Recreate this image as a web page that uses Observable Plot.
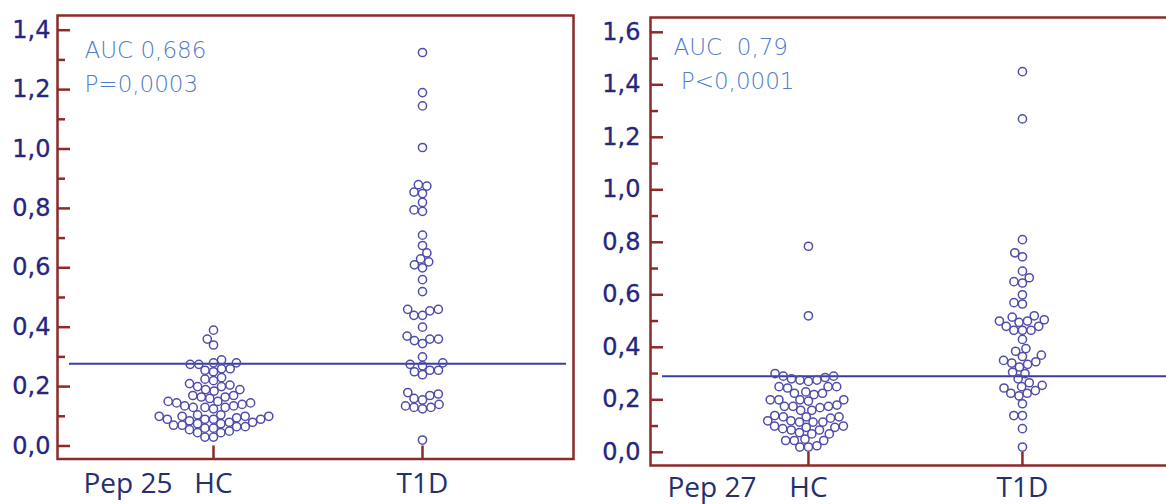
<!DOCTYPE html>
<html><head><meta charset="utf-8">
<script src="https://cdn.jsdelivr.net/npm/d3@7"></script>
<script src="https://cdn.jsdelivr.net/npm/@observablehq/plot@0.6"></script>
<style>
html,body{margin:0;padding:0;background:#fff;overflow:hidden;width:1166px;height:504px;}
#left{position:absolute;left:0;top:0;width:580px;height:504px;}
#right{position:absolute;left:590px;top:0;width:620px;height:504px;}
svg{max-width:none !important;}
svg text{white-space:pre;}
g[aria-label="note"] text{letter-spacing:2px;}
</style></head><body>
<div id="left"></div><div id="right"></div>
<script>
const groups = ["HC", "T1D"];

const pep25HC = [0.39, 0.36, 0.34, 0.29, 0.28, 0.28, 0.275, 0.275, 0.26, 0.255, 0.26, 0.25,
  0.23, 0.225, 0.22, 0.21, 0.2, 0.205, 0.2, 0.19, 0.185, 0.19, 0.17, 0.165, 0.16, 0.165, 0.17,
  0.15, 0.145, 0.15, 0.14, 0.145, 0.13, 0.135, 0.13, 0.125, 0.13, 0.135,
  0.1, 0.105, 0.1, 0.105, 0.1, 0.1, 0.09, 0.09, 0.095, 0.09, 0.085, 0.09,
  0.075, 0.07, 0.08, 0.075, 0.07, 0.08, 0.06, 0.055, 0.065, 0.06, 0.065, 0.045, 0.05, 0.045, 0.03, 0.03];
const pep25T1D = [1.325, 1.19, 1.145, 1.005, 0.88, 0.875, 0.855, 0.85, 0.82, 0.795, 0.79,
  0.71, 0.675, 0.65, 0.63, 0.6, 0.61, 0.62, 0.56, 0.52, 0.44, 0.44, 0.455, 0.46, 0.46,
  0.4, 0.37, 0.345, 0.355, 0.36, 0.36, 0.3, 0.27, 0.275, 0.28, 0.25, 0.255, 0.255, 0.24,
  0.18, 0.175, 0.155, 0.16, 0.17, 0.125, 0.13, 0.13, 0.135, 0.14, 0.02];
const pep27HC = [0.785, 0.52, 0.3, 0.29, 0.285, 0.29, 0.275, 0.27, 0.275, 0.28,
  0.25, 0.25, 0.245, 0.25, 0.225, 0.22, 0.225, 0.23, 0.2, 0.2, 0.195, 0.2, 0.2,
  0.175, 0.17, 0.175, 0.175, 0.18, 0.16, 0.16, 0.135, 0.14, 0.135, 0.13, 0.135,
  0.115, 0.12, 0.115, 0.12, 0.115, 0.1, 0.095, 0.1, 0.095, 0.085, 0.085, 0.09,
  0.07, 0.075, 0.07, 0.045, 0.05, 0.045, 0.045, 0.02, 0.02, 0.025];
const pep27T1D = [1.45, 1.27, 0.81, 0.745, 0.76, 0.69, 0.645, 0.65, 0.665, 0.6, 0.57, 0.565,
  0.5, 0.495, 0.515, 0.52, 0.505, 0.5, 0.465, 0.465, 0.465, 0.48, 0.48, 0.43, 0.395,
  0.365, 0.37, 0.385, 0.35, 0.325, 0.335, 0.34, 0.345, 0.3, 0.305, 0.28,
  0.265, 0.255, 0.25, 0.245, 0.215, 0.225, 0.225, 0.235, 0.185, 0.14, 0.14, 0.09, 0.02];

const pep25Cutoff = 0.277;
const pep27Cutoff = 0.29;
const pep25Major = [0, 0.2, 0.4, 0.6, 0.8, 1.0, 1.2, 1.4];
const pep25Minor = [0.1, 0.3, 0.5, 0.7, 0.9, 1.1, 1.3];
const pep27Major = [0, 0.2, 0.4, 0.6, 0.8, 1.0, 1.2, 1.4, 1.6];
const pep27Minor = [0.1, 0.3, 0.5, 0.7, 0.9, 1.1, 1.3, 1.5];
const pep25Text = ["AUC 0,686", "P=0,0003"];
const pep27Text = ["AUC  0,79", " P<0,0001"];

const RED = "#8c2a2a", NAVY = "#26267f", XNAVY = "#24306e", DOT = "#4e4eaa", LINE = "#3c3ca4", NOTE = "#4f7ccb";

function swarm(values, ky, diam) {
  const pts = values.map((v, i) => ({v, y: v * ky, i, x: 0}));
  const order = pts.slice().sort((a, b) => a.y - b.y);
  const placed = [];
  for (const p of order) {
    const cands = [0];
    for (const q of placed) {
      const dy = p.y - q.y;
      if (Math.abs(dy) < diam) {
        const dx = Math.sqrt(diam * diam - dy * dy);
        cands.push(q.x + dx, q.x - dx);
      }
    }
    cands.sort((a, b) => Math.abs(a) - Math.abs(b) || a - b);
    for (const c of cands) {
      if (placed.every(q => (q.x - c) ** 2 + (q.y - p.y) ** 2 >= diam * diam - 1e-6)) { p.x = c; break; }
    }
    placed.push(p);
  }
  return pts.map(p => p.x);
}

function panel(cfg) {
  const {width, height, ml, mr, mt, mb, xd, yd} = cfg;
  const kx = (width - ml - mr) / (xd[1] - xd[0]);
  const ky = (height - mt - mb) / (yd[1] - yd[0]);
  const rows = [];
  cfg.series.forEach((vals, gi) => {
    const off = swarm(vals, ky, 8.6);
    vals.forEach((v, i) => rows.push({g: groups[gi], x: gi + 1 + off[i] / kx, v}));
  });
  const fmt = d => d.toFixed(1).replace(".", ",");
  return Plot.plot({
    width, height, marginLeft: ml, marginRight: mr, marginTop: mt, marginBottom: mb,
    x: {domain: xd}, y: {domain: yd},
    style: {background: "transparent", fontFamily: "DejaVu Sans", overflow: "visible"},
    marks: [
      Plot.ruleY([cfg.cutoff], {stroke: LINE, strokeWidth: 2, insetLeft: 12, insetRight: cfg.insetRight}),
      Plot.dot(rows, {x: "x", y: "v", r: 4.1, stroke: DOT, strokeWidth: 1.5, fill: "none"}),
      Plot.axisY(cfg.major, {tickSize: -13, tickPadding: cfg.tickPad, stroke: RED, strokeWidth: 2.5, fill: NAVY,
        textStroke: NAVY, textStrokeWidth: 0.3, fontSize: 24, tickFormat: fmt, label: null}),
      Plot.axisY(cfg.minor, {tickSize: -8, stroke: RED, strokeWidth: 2.5, fill: "none", label: null}),
      Plot.axisX([1, 2], {tickSize: -13, stroke: RED, strokeWidth: 2.5, fill: "none", label: null}),
      Plot.axisX([1, 2], {tickSize: 0, tickPadding: cfg.xPad, fill: XNAVY, fontSize: 28, fontFamily: "Open Sans",
        tickFormat: d => groups[d - 1], label: null}),
      Plot.text([cfg.pep], {frameAnchor: "bottom-left", textAnchor: "start", lineAnchor: "top",
        dx: cfg.pepDx, dy: cfg.xPad, fontSize: 28, fontFamily: "Open Sans", fill: XNAVY}),
      Plot.text([cfg.note.join("\n")], {ariaLabel: "note", frameAnchor: "top-left", textAnchor: "start", lineAnchor: "top",
        dx: cfg.noteDx, dy: cfg.noteDy, fontSize: 23, lineHeight: 1.45, fill: NOTE, fontWeight: 200}),
      Plot.frame({stroke: RED, strokeWidth: 2.5})
    ]
  });
}

document.getElementById("left").append(panel({
  width: 580, height: 504, ml: 57, mr: 7, mt: 15, mb: 45.5,
  xd: [0.2536, 2.7225], yd: [-0.0438, 1.4495],
  series: [pep25HC, pep25T1D], cutoff: pep25Cutoff, insetRight: 7, tickPad: 20, xPad: 14,
  major: pep25Major, minor: pep25Minor, pep: "Pep 25", pepDx: 26, note: pep25Text, noteDx: 27, noteDy: 19
}));
document.getElementById("right").append(panel({
  width: 620, height: 504, ml: 60, mr: 10, mt: 17, mb: 39,
  xd: [0.262, 2.832], yd: [-0.0503, 1.6564],
  series: [pep27HC, pep27T1D], cutoff: pep27Cutoff, insetRight: 0, tickPad: 23, xPad: 12,
  major: pep27Major, minor: pep27Minor, pep: "Pep 27", pepDx: 17, note: pep27Text, noteDx: 23, noteDy: 14
}));
</script>
</body></html>
